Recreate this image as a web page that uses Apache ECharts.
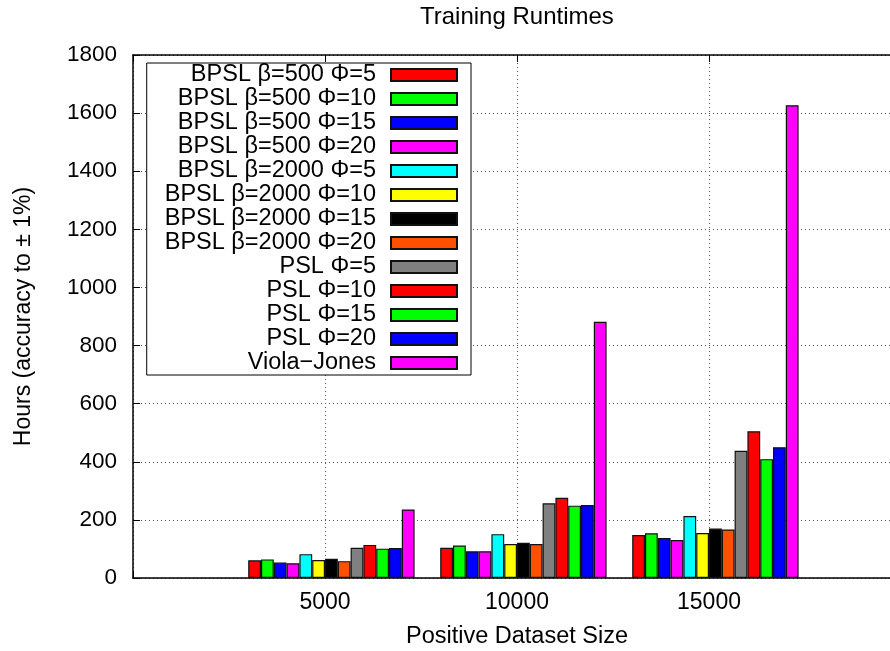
<!DOCTYPE html>
<html>
<head>
<meta charset="utf-8">
<script src="https://cdn.jsdelivr.net/npm/echarts@6/dist/echarts.min.js"></script>
<style>html,body{margin:0;padding:0;background:#fff;}#chart{width:890px;height:651px;}</style>
</head>
<body>
<div id="chart"></div>
<script>
// ---- data ----
const datasetSizes = [5000, 10000, 15000];
const xTicks = [5000, 10000, 15000];
const yTicks = [0, 200, 400, 600, 800, 1000, 1200, 1400, 1600, 1800];
const seriesNames = [
  'BPSL β=500 Φ=5', 'BPSL β=500 Φ=10', 'BPSL β=500 Φ=15', 'BPSL β=500 Φ=20',
  'BPSL β=2000 Φ=5', 'BPSL β=2000 Φ=10', 'BPSL β=2000 Φ=15', 'BPSL β=2000 Φ=20',
  'PSL Φ=5', 'PSL Φ=10', 'PSL Φ=15', 'PSL Φ=20', 'Viola−Jones'
];
const bpsl500phi5   = [61, 104, 148];
const bpsl500phi10  = [64, 112, 154];
const bpsl500phi15  = [53, 92, 138];
const bpsl500phi20  = [51, 92, 131];
const bpsl2000phi5  = [82, 151, 213];
const bpsl2000phi10 = [62, 117, 155];
const bpsl2000phi15 = [66, 121, 170];
const bpsl2000phi20 = [58, 117, 167];
const psl5          = [104, 257, 438];
const psl10         = [114, 276, 505];
const psl15         = [101, 249, 409];
const psl20         = [103, 251, 450];
const violaJones    = [236, 882, 1627];
const seriesValues = [bpsl500phi5, bpsl500phi10, bpsl500phi15, bpsl500phi20,
  bpsl2000phi5, bpsl2000phi10, bpsl2000phi15, bpsl2000phi20,
  psl5, psl10, psl15, psl20, violaJones];
const colors = ['#ff0000', '#00ff00', '#0000ff', '#ff00ff', '#00ffff', '#ffff00', '#000000',
  '#ff5000', '#808080', '#ff0000', '#00ff00', '#0000ff', '#ff00ff'];

// ---- chart ----
const FONT = 'Liberation Sans';
const chart = echarts.init(document.getElementById('chart'), null, {renderer: 'canvas'});
const XMAX = 20000;
const slot = 5000 / 15; // gnuplot histogram slot (13 bars + gap 2)

const series = seriesNames.map((name, i) => ({
  name: name,
  type: 'bar',
  xAxisIndex: 1,
  yAxisIndex: 0,
  barWidth: 12.8,
  barGap: '0%',
  data: datasetSizes.map((x, k) => [x, seriesValues[i][k]]),
  itemStyle: {color: colors[i], borderColor: '#111', borderWidth: 1.2},
  emphasis: {disabled: true},
  animation: false
}));

chart.setOption({
  animation: false,
  backgroundColor: '#fff',
  textStyle: {fontFamily: FONT},
  title: {
    text: 'Training Runtimes',
    left: 420,
    top: 5,
    padding: 0,
    textStyle: {fontFamily: FONT, fontSize: 24, fontWeight: 'normal', color: '#000'}
  },
  legend: {
    orient: 'vertical',
    right: 419,
    top: 63,
    align: 'right',
    data: seriesNames,
    itemWidth: 66,
    itemHeight: 12,
    itemGap: 0,
    padding: [0, 13, 0, 18],
    borderColor: '#000',
    borderWidth: 1,
    backgroundColor: '#fff',
    selectedMode: false,
    icon: 'rect',
    textStyle: {fontFamily: FONT, fontSize: 23.5, color: '#000', lineHeight: 24, padding: [0, 10, 0, 0]}
  },
  grid: {left: 133, top: 55, right: -11, bottom: 73, containLabel: false, outerBoundsMode: 'none'},
  xAxis: [
    {
      type: 'value', position: 'bottom', min: 0, max: XMAX, interval: 5000,
      name: 'Positive Dataset Size', nameLocation: 'middle', nameGap: 47,
      nameTextStyle: {fontFamily: FONT, fontSize: 23.5, color: '#000'},
      axisLine: {show: true, lineStyle: {color: '#000', width: 1.5}},
      axisTick: {show: true, inside: true, length: 7, lineStyle: {color: '#000'}},
      axisLabel: {fontFamily: FONT, fontSize: 23, color: '#000', margin: 13,
        formatter: v => (xTicks.indexOf(v) >= 0 ? String(v) : '')},
      splitLine: {show: true, lineStyle: {type: [1, 3], color: '#555', width: 1}}
    },
    {
      type: 'value', position: 'bottom', show: false,
      min: -slot / 2, max: XMAX - slot / 2
    },
    {
      type: 'value', position: 'top', min: 0, max: XMAX, interval: 5000,
      axisLine: {show: true, lineStyle: {color: '#000', width: 1.5}},
      axisTick: {show: true, inside: true, length: 7, lineStyle: {color: '#000'}},
      axisLabel: {show: false},
      splitLine: {show: false}
    }
  ],
  yAxis: [{
    type: 'value', min: 0, max: 1800, interval: 200,
    name: 'Hours (accuracy to ± 1%)', nameLocation: 'middle', nameGap: 98, nameRotate: 90,
    nameTextStyle: {fontFamily: FONT, fontSize: 23, color: '#000'},
    axisLine: {show: true, lineStyle: {color: '#000', width: 1.5}},
    axisTick: {show: true, inside: true, length: 7, lineStyle: {color: '#000'}},
    axisLabel: {fontFamily: FONT, fontSize: 22.5, color: '#000', margin: 16,
      formatter: v => (yTicks.indexOf(v) >= 0 ? String(v) : '')},
    splitLine: {show: true, lineStyle: {type: [1, 3], color: '#555', width: 1}}
  }],
  series: series
});
</script>
</body>
</html>
